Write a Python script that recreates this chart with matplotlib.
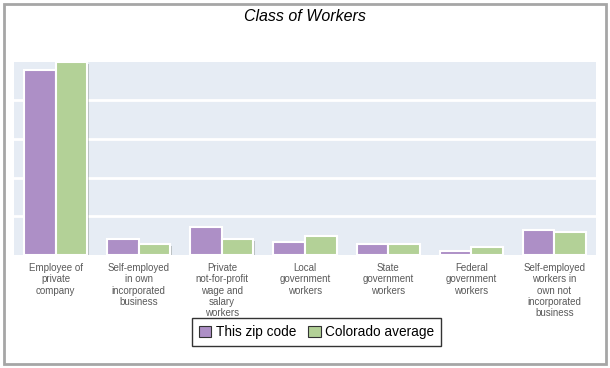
import numpy as np
import matplotlib
matplotlib.use("Agg")
import matplotlib.pyplot as plt
from matplotlib.patches import Rectangle, Patch
import matplotlib.patheffects as pe

plt.rcParams['font.family'] = ['Liberation Sans', 'DejaVu Sans']

categories = ["Employee of\nprivate\ncompany",
              "Self-employed\nin own\nincorporated\nbusiness",
              "Private\nnot-for-profit\nwage and\nsalary\nworkers",
              "Local\ngovernment\nworkers",
              "State\ngovernment\nworkers",
              "Federal\ngovernment\nworkers",
              "Self-employed\nworkers in\nown not\nincorporated\nbusiness"]
zip_code = [47.8, 4.1, 7.3, 3.4, 2.8, 1.1, 6.6]
colorado = [49.9, 2.8, 4.1, 4.9, 2.9, 2.1, 5.9]
series_names = ["This zip code", "Colorado average"]

purple = "#ad8fc6"
green = "#b3d197"

fig = plt.figure(figsize=(6.10, 3.68), dpi=100)
# outer gray frame
fig.patches.append(Rectangle((0.006, 0.01), 0.988, 0.98, transform=fig.transFigure,
                             fill=False, edgecolor="#a6a6a6", linewidth=2))

ax = fig.add_axes([0.023, 0.307, 0.954, 0.525])
ax.set_facecolor("#e6ecf4")
for s in ax.spines.values():
    s.set_visible(False)

x = np.arange(len(categories))
w = 0.38
shadow = [pe.SimplePatchShadow(offset=(1, -1), alpha=0.25), pe.Normal()]
b1 = ax.bar(x - w / 2, zip_code, w, color=purple, edgecolor="white", linewidth=1.5, zorder=3)
b2 = ax.bar(x + w / 2, colorado, w, color=green, edgecolor="white", linewidth=1.5, zorder=3)
for b in list(b1) + list(b2):
    b.set_path_effects(shadow)

ax.set_xlim(-0.5, len(categories) - 0.5)
ax.set_ylim(0, 50)
ax.set_yticks([10, 20, 30, 40])
ax.yaxis.grid(True, color="white", linewidth=2)
ax.set_axisbelow(True)
ax.tick_params(left=False, labelleft=False, bottom=False)
ax.set_xticks(x)
ax.set_xticklabels(categories, fontsize=7, color="#5a5a5a", linespacing=1.18)
ax.tick_params(axis="x", pad=2)

fig.text(0.5, 0.955, "Class of Workers", ha="center", va="center",
         fontsize=11.5, style="italic", color="black")

handles = [Patch(facecolor=purple, edgecolor="#333333", linewidth=0.8),
           Patch(facecolor=green, edgecolor="#333333", linewidth=0.8)]
leg = fig.legend(handles, series_names, loc="center", bbox_to_anchor=(0.519, 0.098),
                 ncol=2, fontsize=9.8, frameon=True, fancybox=False,
                 handlelength=0.9, handleheight=0.9, handletextpad=0.35,
                 columnspacing=0.9, borderpad=0.5)
leg.get_frame().set_edgecolor("black")
leg.get_frame().set_linewidth(1)

fig.savefig("out.png", dpi=100)
